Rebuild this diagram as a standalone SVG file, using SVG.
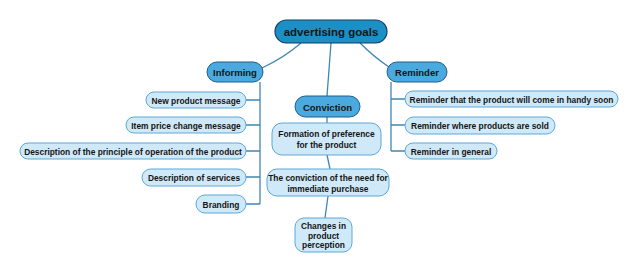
<svg xmlns="http://www.w3.org/2000/svg" width="638" height="275" viewBox="0 0 638 275">
<style>
text{font-family:"Liberation Sans",Arial,sans-serif;font-weight:bold;fill:#151515;text-anchor:middle;dominant-baseline:central}
.root rect{fill:#1c8fc6;stroke:#133f5e;stroke-width:1.2}
.root text{font-size:11.5px}
.l1 rect{fill:#4aa9de;stroke:#1d5f8a;stroke-width:1}
.l1 text{font-size:9.5px}
.leaf rect{fill:#cfe9f8;stroke:#5aa9d6;stroke-width:1}
.leaf text{font-size:8.4px}
#connectors path{fill:none;stroke:#3f86b3;stroke-width:1.3}
</style>
<rect width="638" height="275" fill="#fff"/>
<g id="connectors">
<path d="M301,43 Q285,57 262,68"/>
<path d="M331,43 L327,96"/>
<path d="M360,43 Q374,57 389,67"/>
<path d="M260,82 V204"/>
<path d="M246,100 H260 M246,125 H260 M246,151 H260 M246,177 H260 M246,204 H260"/>
<path d="M391,82 V151"/>
<path d="M391,99 H405 M391,125 H405 M391,151 H405"/>
<path d="M327,117 L327,123"/>
<path d="M327,155 L330,169"/>
<path d="M328,196 L325,218"/>
</g>
<g id="root" class="root"><rect x="275" y="20" width="112" height="23" rx="11.5"/><text x="331" y="32">advertising goals</text></g>
<g id="informing" class="l1"><rect x="207" y="62" width="56" height="20" rx="10"/><text x="235" y="72.5">Informing</text></g>
<g id="reminder" class="l1"><rect x="387" y="62" width="60" height="20" rx="10"/><text x="417" y="72.5">Reminder</text></g>
<g id="conviction" class="l1"><rect x="295" y="96" width="65" height="21" rx="10.5"/><text x="327.5" y="107">Conviction</text></g>
<g id="new-product" class="leaf"><rect x="146" y="92" width="100" height="16" rx="8"/><text x="196" y="100.5">New product message</text></g>
<g id="price-change" class="leaf"><rect x="126" y="117" width="120" height="16" rx="8"/><text x="186" y="125.5">Item price change message</text></g>
<g id="principle" class="leaf"><rect x="20" y="143" width="226" height="16" rx="8"/><text x="133" y="151.5">Description of the principle of operation of the product</text></g>
<g id="services" class="leaf"><rect x="142" y="169" width="104" height="17" rx="8.5"/><text x="194" y="177.5">Description of services</text></g>
<g id="branding" class="leaf"><rect x="196" y="195" width="50" height="18" rx="9"/><text x="221" y="204.5">Branding</text></g>
<g id="handy" class="leaf"><rect x="405" y="91" width="213" height="16" rx="8"/><text x="511.5" y="99.5">Reminder that the product will come in handy soon</text></g>
<g id="where-sold" class="leaf"><rect x="405" y="117" width="150" height="17" rx="8.5"/><text x="480" y="125.5">Reminder where products are sold</text></g>
<g id="general" class="leaf"><rect x="405" y="143" width="92" height="16" rx="8"/><text x="451" y="151.5">Reminder in general</text></g>
<g id="preference" class="leaf"><rect x="272" y="123" width="109" height="32" rx="10"/><text x="326.5" y="134">Formation of preference</text><text x="326.5" y="145">for the product</text></g>
<g id="need" class="leaf"><rect x="267" y="169" width="122" height="27" rx="10"/><text x="328" y="177.5">The conviction of the need for</text><text x="328" y="188.5">immediate purchase</text></g>
<g id="perception" class="leaf"><rect x="295" y="218" width="57" height="34" rx="9"/><text x="323.5" y="226">Changes in</text><text x="323.5" y="235.5">product</text><text x="323.5" y="245">perception</text></g>
</svg>
